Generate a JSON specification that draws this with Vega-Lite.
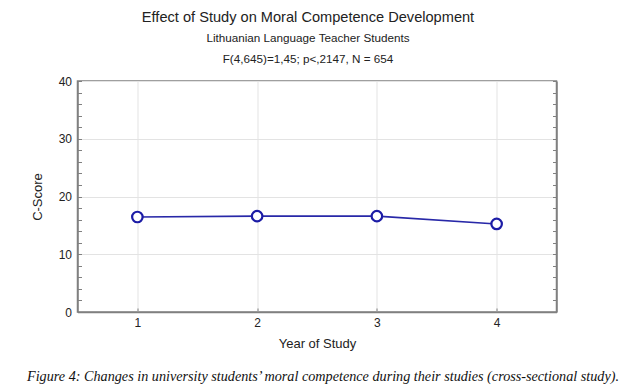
{
  "$schema": "https://vega.github.io/schema/vega-lite/v6.json",
  "padding": {"left": 24.5, "top": 9, "right": 10, "bottom": 5},
  "background": "white",
  "title": {
    "text": "Effect of Study on Moral Competence Development",
    "subtitle": ["Lithuanian Language Teacher Students", "F(4,645)=1,45; p<,2147, N = 654"],
    "font": "Liberation Sans",
    "fontSize": 14.6,
    "fontWeight": "normal",
    "color": "#222",
    "subtitleFont": "Liberation Sans",
    "subtitleFontSize": 11.7,
    "subtitleColor": "#222",
    "subtitleLineHeight": 21,
    "subtitlePadding": 8,
    "anchor": "middle",
    "dx": -15,
    "offset": 9
  },
  "config": {
    "view": {"stroke": "#808080", "strokeWidth": 1.5},
    "axis": {
      "labelFont": "Liberation Sans",
      "labelFontSize": 12,
      "labelColor": "#222",
      "titleFont": "Liberation Sans",
      "titleFontSize": 13,
      "titleFontWeight": "normal",
      "titleColor": "#222",
      "domainColor": "#808080",
      "domainWidth": 1.5,
      "tickColor": "#808080",
      "gridColor": "#e3e3e3"
    }
  },
  "vconcat": [
    {
      "width": 479,
      "height": 231,
      "title": {
        "text": "Figure 4: Changes in university students’ moral competence during their studies (cross-sectional study).",
        "orient": "bottom",
        "anchor": "middle",
        "font": "Liberation Serif",
        "fontStyle": "italic",
        "fontSize": 14.2,
        "fontWeight": "normal",
        "color": "#111",
        "dx": 6,
        "offset": 20
      },
      "data": {
        "values": [
          {"year": 1, "score": 16.45},
          {"year": 2, "score": 16.6},
          {"year": 3, "score": 16.6},
          {"year": 4, "score": 15.25}
        ]
      },
      "resolve": {"axis": {"y": "independent"}},
      "layer": [
        {
          "mark": {"type": "line", "color": "#2828a8", "strokeWidth": 1.6},
          "encoding": {
            "x": {
              "field": "year", "type": "quantitative",
              "scale": {"domain": [0.5, 4.5], "nice": false, "zero": false},
              "axis": {"values": [1, 2, 3, 4], "format": "d", "title": "Year of Study", "tickSize": -4, "labelPadding": 9, "titlePadding": 9, "grid": true}
            },
            "y": {
              "field": "score", "type": "quantitative",
              "scale": {"domain": [0, 40], "nice": false},
              "axis": {
                "values": [0,2,4,6,8,10,12,14,16,18,20,22,24,26,28,30,32,34,36,38,40],
                "labelExpr": "datum.value % 10 === 0 ? datum.label : ''",
                "gridOpacity": {"condition": {"test": "datum.value % 10 === 0", "value": 1}, "value": 0},
                "tickSize": -4,
                "labelPadding": 10,
                "title": "C-Score",
                "titlePadding": 14,
                "grid": true
              }
            }
          }
        },
        {
          "mark": {"type": "point", "shape": "circle", "filled": true, "fill": "white", "stroke": "#1c1ca6", "strokeWidth": 2.2, "size": 110, "opacity": 1},
          "encoding": {
            "x": {"field": "year", "type": "quantitative"},
            "y": {
              "field": "score", "type": "quantitative",
              "axis": {
                "orient": "right",
                "values": [0,2,4,6,8,10,12,14,16,18,20,22,24,26,28,30,32,34,36,38,40],
                "labels": false,
                "title": null,
                "grid": false,
                "tickSize": -4
              }
            }
          }
        }
      ]
    }
  ]
}
